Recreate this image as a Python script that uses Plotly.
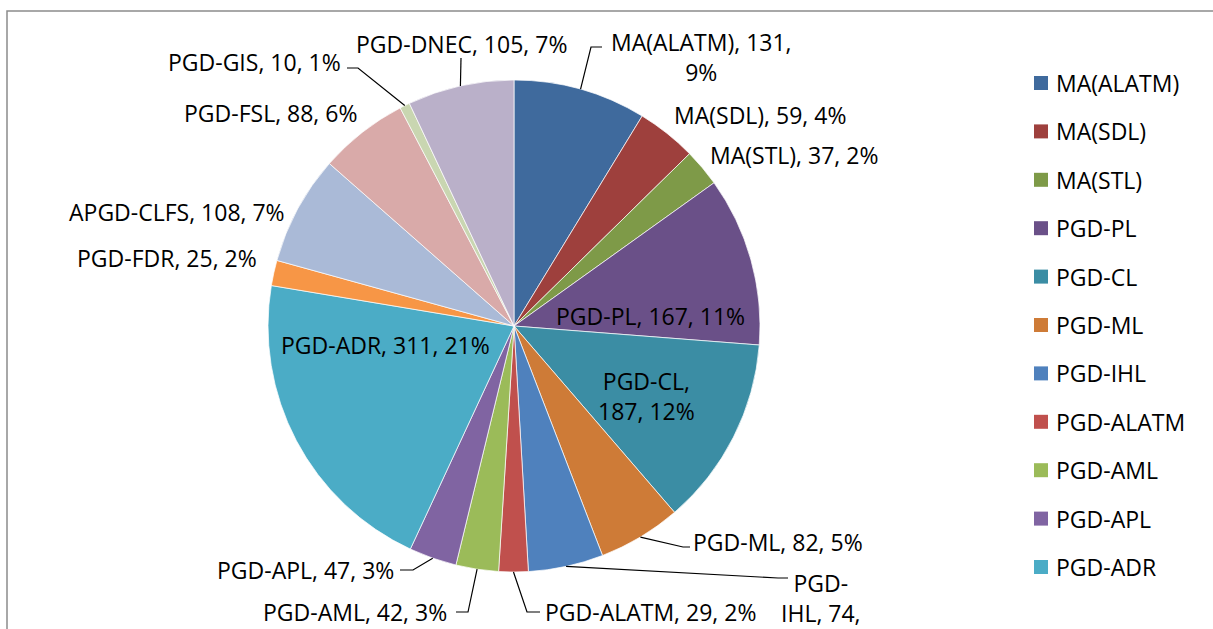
import math
import plotly.graph_objects as go

# ---- data ----
categories = ["MA(ALATM)", "MA(SDL)", "MA(STL)", "PGD-PL", "PGD-CL", "PGD-ML",
              "PGD-IHL", "PGD-ALATM", "PGD-AML", "PGD-APL", "PGD-ADR", "PGD-FDR",
              "APGD-CLFS", "PGD-FSL", "PGD-GIS", "PGD-DNEC"]
values = [131, 59, 37, 167, 187, 82, 74, 29, 42, 47, 311, 25, 108, 88, 10, 105]
percent_labels = ["9%", "4%", "2%", "11%", "12%", "5%", "5%", "2%", "3%", "3%",
                  "21%", "2%", "7%", "6%", "1%", "7%"]

# ---- styles ----
colors = ["#3F6A9D", "#9E403D", "#7E9A48", "#6A5088", "#3B8DA4", "#CE7B37",
          "#4F81BD", "#C0504D", "#9BBB59", "#8064A2", "#4BACC6", "#F79646",
          "#AABAD7", "#D9AAA9", "#C9D6B1", "#BAB0C9"]

W, H = 1213, 629
CX, CY, R = 514, 326, 246
FONT = "Open Sans"
FS = 23


def px(x):
    return x / W


def py(y):
    return 1 - y / H


# label layout: name -> (x, y, xanchor, yanchor, text-break style)
label_layout = {
    "MA(ALATM)": (702, 57, "center", "middle", "{n}, {v},<br>{p}"),
    "MA(SDL)": (760, 115, "center", "middle", None),
    "MA(STL)": (794, 155, "center", "middle", None),
    "PGD-PL": (650, 316, "center", "middle", None),
    "PGD-CL": (646, 396, "center", "middle", "{n},<br>{v}, {p}"),
    "PGD-ML": (691, 542, "left", "middle", None),
    "PGD-IHL": (821, 565, "center", "top", "PGD-<br>IHL, {v},<br>{p}"),
    "PGD-ALATM": (543, 612, "left", "middle", None),
    "PGD-AML": (449, 612, "right", "middle", None),
    "PGD-APL": (396, 570, "right", "middle", None),
    "PGD-ADR": (385, 345, "center", "middle", None),
    "PGD-FDR": (167, 258, "center", "middle", None),
    "APGD-CLFS": (177, 212, "center", "middle", None),
    "PGD-FSL": (270, 113, "center", "middle", None),
    "PGD-GIS": (343, 62, "right", "middle", None),
    "PGD-DNEC": (461, 44, "center", "middle", None),
}

# leader line elbows (pixel positions of the bend and end)
leader_layout = {
    "PGD-DNEC": [(461, 58)],
    "MA(ALATM)": [(591, 47), (602, 47)],
    "PGD-ML": [(683, 547), (690, 547)],
    "PGD-IHL": [(778, 578), (788, 578)],
    "PGD-ALATM": [(527, 612), (540, 612)],
    "PGD-AML": [(468, 612), (456, 612)],
    "PGD-APL": [(413, 570), (400, 570)],
    "PGD-GIS": [(358, 68), (347, 68)],
}

fig = go.Figure(go.Pie(
    labels=categories, values=values, sort=False, direction="clockwise",
    rotation=0, textinfo="none", textposition="none",
    marker=dict(colors=colors, line=dict(color="white", width=0.7)),
    domain=dict(x=[px(CX - R), px(CX + R)], y=[py(CY + R), py(CY - R)]),
    showlegend=False, hoverinfo="label+value+percent",
))

total = sum(values)
annotations = []
shapes = []
cum = 0
for name, v, p in zip(categories, values, percent_labels):
    mid = (cum + v / 2) / total * 2 * math.pi
    cum += v
    x, y, xa, ya, fmt = label_layout[name]
    text = (fmt or "{n}, {v}, {p}").format(n=name, v=v, p=p)
    annotations.append(dict(
        x=px(x), y=py(y), xref="paper", yref="paper", text=text,
        showarrow=False, xanchor=xa, yanchor=ya, align="center",
        font=dict(family=FONT, size=FS, color="#000000")))
    if name in leader_layout:
        rx = CX + R * math.sin(mid)
        ry = CY - R * math.cos(mid)
        pts = [(rx, ry)] + leader_layout[name]
        path = "M " + " L ".join(f"{px(a)},{py(b)}" for a, b in pts)
        shapes.append(dict(type="path", path=path, xref="paper", yref="paper",
                           line=dict(color="#000000", width=1.2)))

# manual legend (first 11 entries shown, as in the source)
LEG_X, LEG_Y, LEG_STEP = 1034, 83, 48.4
for i, name in enumerate(categories[:11]):
    yc = LEG_Y + i * LEG_STEP
    shapes.append(dict(type="rect", xref="paper", yref="paper",
                       x0=px(LEG_X), x1=px(LEG_X + 14), y0=py(yc + 7), y1=py(yc - 7),
                       fillcolor=colors[i], line=dict(width=0)))
    annotations.append(dict(x=px(LEG_X + 20), y=py(yc), xref="paper", yref="paper",
                            text=name, showarrow=False, xanchor="left", yanchor="middle",
                            font=dict(family=FONT, size=FS, color="#000000")))

# chart frame
shapes.append(dict(type="rect", xref="paper", yref="paper",
                   x0=px(7), y0=py(700), x1=px(1300), y1=py(11),
                   line=dict(color="#8c8c8c", width=1.5), fillcolor="rgba(0,0,0,0)",
                   layer="below"))

fig.update_layout(
    width=W, height=H, margin=dict(l=0, r=0, t=0, b=0),
    paper_bgcolor="white", plot_bgcolor="white",
    annotations=annotations, shapes=shapes,
)
fig.write_html("out.html", post_script="document.body.style.margin='0';",
               config={"displayModeBar": False})
